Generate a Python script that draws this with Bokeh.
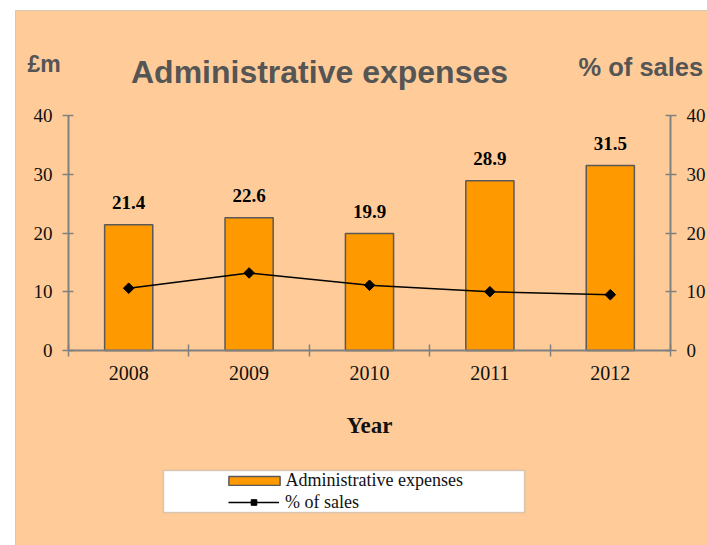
import numpy as np
from bokeh.plotting import figure
from bokeh.models import (Range1d, LinearAxis, FixedTicker, LabelSet, Label, Legend,
                          LegendItem, BoxAnnotation, ColumnDataSource)
from bokeh.core.properties import value
from bokeh.embed import file_html
from bokeh.resources import INLINE

# ---- data ----
years = ["2008", "2009", "2010", "2011", "2012"]
expenses = [21.4, 22.6, 19.9, 28.9, 31.5]
pct_sales = [10.6, 13.2, 11.1, 10.0, 9.5]
y_ticks = [0, 10, 20, 30, 40]
y_max = 40

xs = list(range(len(years)))
src = ColumnDataSource(dict(x=xs, year=years, exp=expenses, pct=pct_sales,
                            lbl=[f"{v:.1f}" for v in expenses]))

BG = "#FFCC99"
AX = "#808080"
SERIF = "Liberation Serif"
SANS = "Liberation Sans"
TITLE_C = "#555555"

# ---- layout geometry (pixels in the picture) ----
FIG_X0, FIG_Y0, FIG_W, FIG_H = 0, 0, 707, 545
X_LEFT, X_RIGHT = 68, 670      # pixel of plot-area left / right edge
Y_ZERO, Y_TOP = 350, 115       # pixel of value 0 / value 40
n = len(years)
sx = (X_RIGHT - X_LEFT) / n
sy = (Y_ZERO - Y_TOP) / y_max


def dx(px):
    return -0.5 + (px - X_LEFT) / sx


def dy(py):
    return (Y_ZERO - py) / sy


p = figure(width=FIG_W, height=FIG_H, output_backend="svg", toolbar_location=None,
           x_range=Range1d(dx(FIG_X0), dx(FIG_X0 + FIG_W)),
           y_range=Range1d(dy(FIG_Y0 + FIG_H), dy(FIG_Y0)),
           min_border=0, background_fill_color="white", border_fill_color="white",
           outline_line_color=None)
p.xgrid.visible = False
p.ygrid.visible = False

# chart area background with its border (top/left visible, rest runs off the page)
p.add_layout(BoxAnnotation(left=dx(15), top=dy(10), right=dx(FIG_X0 + FIG_W + 20),
                           bottom=dy(FIG_Y0 + FIG_H + 20), fill_color=BG, fill_alpha=1,
                           line_color=AX, line_width=1, level="underlay"))

# x axis: labels at centers, ticks at boundaries
xa = p.xaxis[0]
xa.fixed_location = 0
xa.bounds = (-0.5, n - 0.5)
xa.ticker = FixedTicker(ticks=xs, minor_ticks=[i - 0.5 for i in range(n + 1)])
xa.major_label_overrides = {i: y for i, y in enumerate(years)}
xa.major_tick_line_color = None
xa.major_tick_out = 6
xa.major_tick_in = 0
xa.minor_tick_in = 6
xa.minor_tick_out = 6
xa.minor_tick_line_color = AX
xa.minor_tick_line_width = 1.5
xa.axis_line_color = AX
xa.axis_line_width = 2
xa.major_label_text_font = SERIF
xa.major_label_text_font_size = "20px"
xa.major_label_text_color = "#111111"
xa.major_label_standoff = 9
xa.axis_label = "Year"
xa.axis_label_text_font = SERIF
xa.axis_label_text_font_style = "bold"
xa.axis_label_text_font_size = "23px"
xa.axis_label_text_color = "#111111"
xa.axis_label_standoff = 30


def style_y(ax, loc):
    ax.fixed_location = loc
    ax.bounds = (0, y_max)
    ax.ticker = FixedTicker(ticks=y_ticks, minor_ticks=[])
    ax.major_tick_in = 5
    ax.major_tick_out = 6
    ax.major_tick_line_color = AX
    ax.major_tick_line_width = 1.5
    ax.minor_tick_line_color = None
    ax.axis_line_color = AX
    ax.axis_line_width = 2
    ax.major_label_text_font = SERIF
    ax.major_label_text_font_size = "19px"
    ax.major_label_text_color = "#111111"
    ax.major_label_standoff = 10


style_y(p.yaxis[0], -0.5)
p.extra_y_ranges = {"pct": Range1d(dy(FIG_Y0 + FIG_H), dy(FIG_Y0))}
ra = LinearAxis(y_range_name="pct")
p.add_layout(ra, "right")
style_y(ra, n - 0.5)

# ---- glyphs ----
r_bar = p.vbar(x="x", top="exp", width=0.4, source=src, fill_color="#FF9900",
               line_color="#595959", line_width=1.5)
r_line = p.line("x", "pct", y_range_name="pct", source=src, line_color="black", line_width=1.5)
r_pts = p.scatter("x", "pct", y_range_name="pct", source=src, marker="square",
                  angle=np.pi / 4, size=7.5, fill_color="black", line_color="black")

p.add_layout(LabelSet(x="x", y="exp", text="lbl", source=src, y_offset=22,
                      text_align="center", text_baseline="middle",
                      text_font=value(SERIF), text_font_style="bold",
                      text_font_size="19px", text_color="black"))

# ---- titles ----
p.add_layout(Label(x=dx(27), y=dy(63), text="£m", text_font=SANS, text_font_style="bold",
                   text_font_size="23px", text_color=TITLE_C, text_align="left",
                   text_baseline="alphabetic"))
p.add_layout(Label(x=dx(319), y=dy(71), text="Administrative expenses", text_font=SANS,
                   text_font_style="bold", text_font_size="32px", text_color=TITLE_C,
                   text_align="center", text_baseline="alphabetic"))
p.add_layout(Label(x=dx(578), y=dy(66.5), text="% of sales", text_font=SANS,
                   text_font_style="bold", text_font_size="25.5px", text_color=TITLE_C,
                   text_align="left", text_baseline="alphabetic"))

# ---- legend ----
p.add_layout(BoxAnnotation(left=dx(163), right=dx(524), top=dy(470), bottom=dy(512),
                           fill_color="white", fill_alpha=1, line_color=AX, line_width=1.5))

common = dict(padding=0, margin=0, spacing=0, background_fill_alpha=0, border_line_color=None,
              label_text_font=SERIF, label_text_font_size="18px", label_height=21,
              label_text_color="#111111")
fb = FIG_Y0 + FIG_H
leg1 = Legend(items=[LegendItem(label="Administrative expenses", renderers=[r_bar])],
              location=(221.6 - FIG_X0, fb - 491), glyph_width=64, glyph_height=11,
              label_standoff=0, **common)
leg2 = Legend(items=[LegendItem(label="% of sales", renderers=[r_line, r_pts])],
              location=(228 - FIG_X0, fb - 512.5), glyph_width=51, glyph_height=14,
              label_standoff=6, **common)
p.add_layout(leg1, "center")
p.add_layout(leg2, "center")

open("out.html", "w").write(file_html(p, INLINE))
